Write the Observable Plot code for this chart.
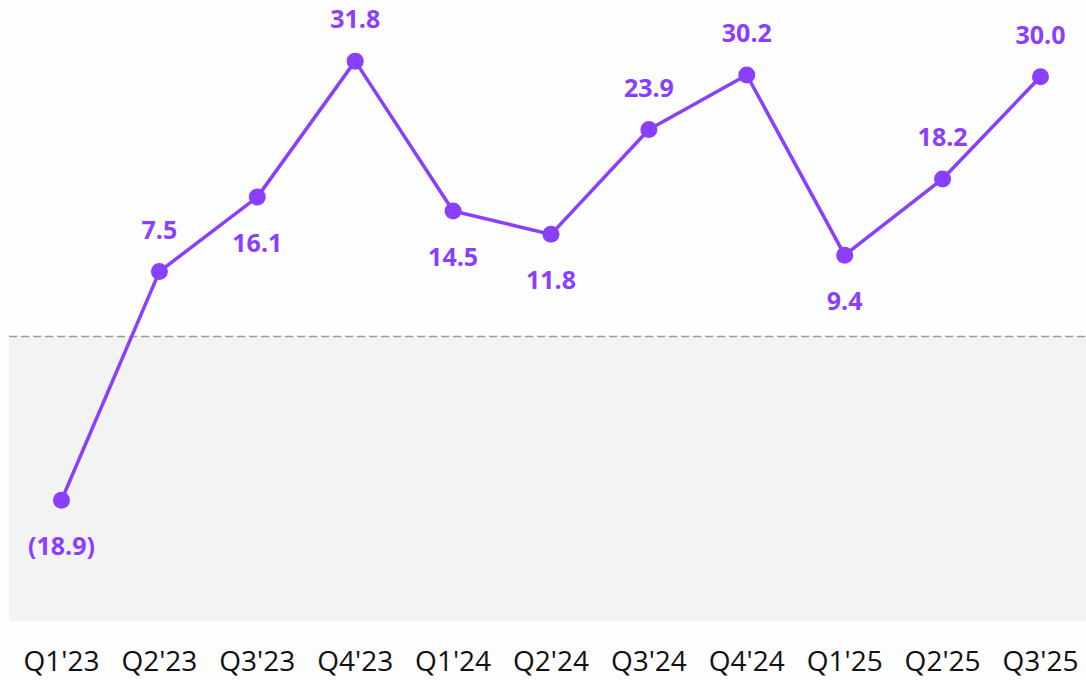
<!DOCTYPE html>
<html>
<head>
<meta charset="utf-8">
<script src="https://cdn.jsdelivr.net/npm/d3@7"></script>
<script src="https://cdn.jsdelivr.net/npm/@observablehq/plot@0.6"></script>
<style>
  html, body { margin: 0; padding: 0; background: #fdfdfd; }
  #chart svg { display: block; }
</style>
</head>
<body>
<div id="chart"></div>
<script>
const quarters = ["Q1'23","Q2'23","Q3'23","Q4'23","Q1'24","Q2'24","Q3'24","Q4'24","Q1'25","Q2'25","Q3'25"];
const values = [-18.9, 7.5, 16.1, 31.8, 14.5, 11.8, 23.9, 30.2, 9.4, 18.2, 30.0];
const placement = ["below","above","below","above","below","below","above","above","below","above","above"];

const data = quarters.map((q, i) => ({i, q, v: values[i], pos: placement[i]}));
const fmt = v => v < 0 ? `(${Math.abs(v).toFixed(1)})` : v.toFixed(1);
const purple = "#8a3ffc";

const xMin = -0.623, xMax = 10.47, bandLeft = -0.53;
const yMin = -32.9, yMax = 38.8;

const chart = Plot.plot({
  width: 1086,
  height: 680,
  marginLeft: 0,
  marginRight: 0,
  marginTop: 0,
  marginBottom: 59,
  style: {background: "#fdfdfd", fontFamily: "'Open Sans', sans-serif"},
  x: {domain: [xMin, xMax]},
  y: {domain: [yMin, yMax], axis: null},
  marks: [
    Plot.rect([0], {x1: bandLeft, x2: xMax, y1: yMin, y2: 0, fill: "#f3f3f3"}),
    Plot.ruleY([0], {x1: bandLeft, x2: xMax, stroke: "#9a9a9a", strokeWidth: 1.5, strokeDasharray: "8,4"}),
    Plot.line(data, {x: "i", y: "v", stroke: purple, strokeWidth: 3.5}),
    Plot.dot(data, {x: "i", y: "v", r: 8.5, fill: purple}),
    Plot.text(data.filter(d => d.pos === "above"), {x: "i", y: "v", text: d => fmt(d.v), dy: -41, fill: purple, fontSize: 25, fontWeight: "bold"}),
    Plot.text(data.filter(d => d.pos === "below"), {x: "i", y: "v", text: d => fmt(d.v), dy: 47, fill: purple, fontSize: 25, fontWeight: "bold"}),
    Plot.axisX({
      ticks: d3.range(quarters.length),
      tickFormat: i => quarters[i],
      tickSize: 0,
      tickPadding: 30,
      fontSize: 28,
      color: "#111",
      label: null
    })
  ]
});
document.getElementById("chart").appendChild(chart);
</script>
</body>
</html>
